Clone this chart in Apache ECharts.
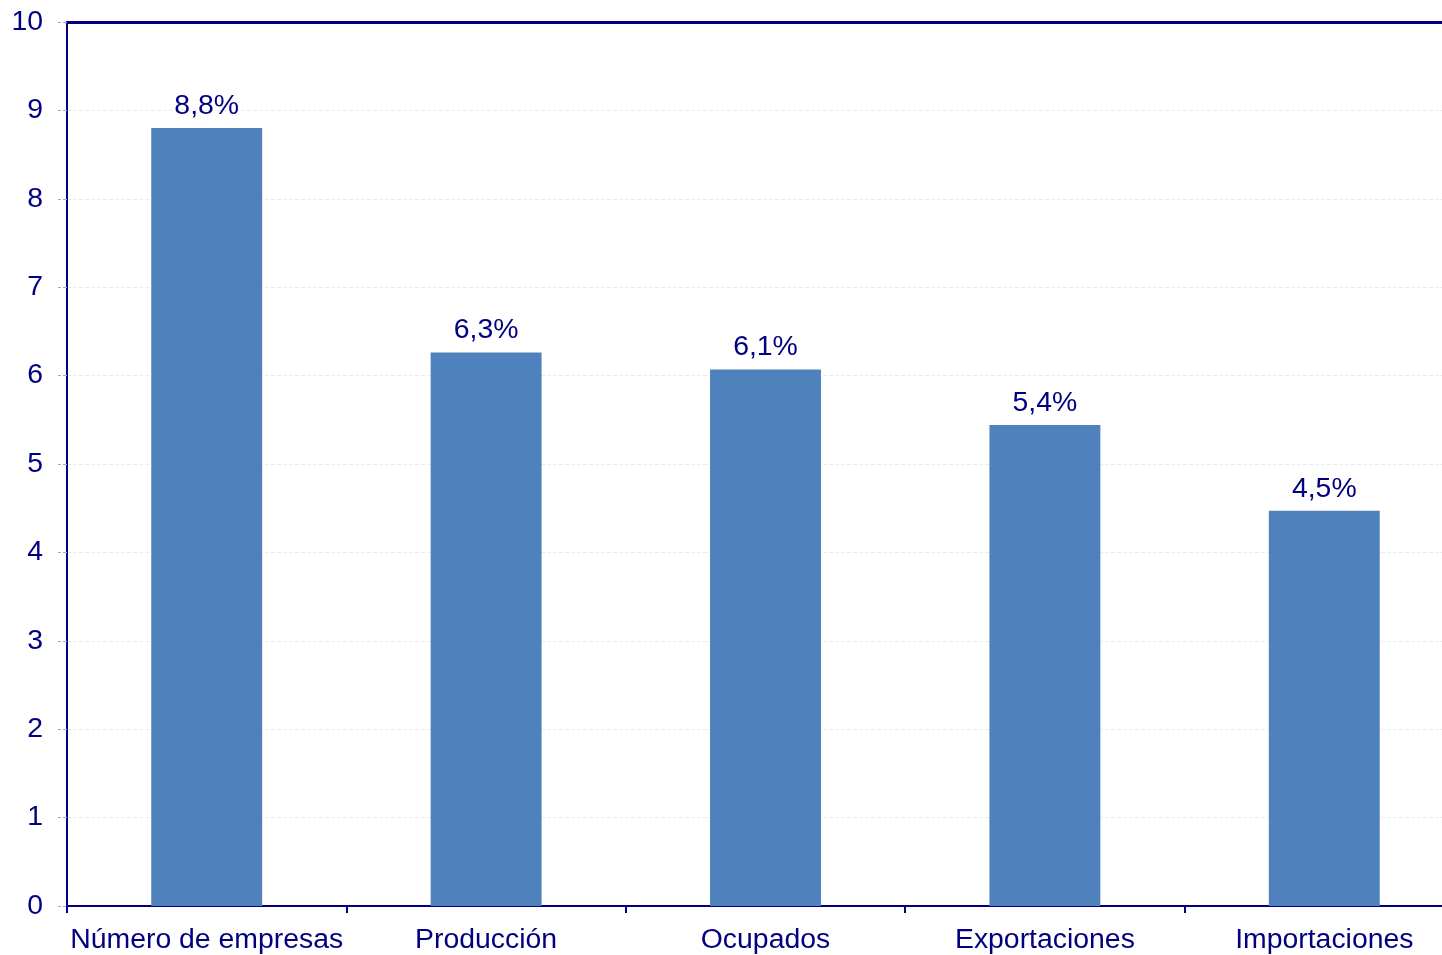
<!DOCTYPE html>
<html>
<head>
<meta charset="utf-8">
<script src="https://cdn.jsdelivr.net/npm/echarts@6/dist/echarts.min.js"></script>
<style>
  html, body { margin: 0; padding: 0; background: #fff; overflow: hidden; }
  /* el área de trazado sobrepasa el borde derecho de la imagen */
  #chart { width: 1464px; height: 955px; }
</style>
</head>
<body>
<div id="chart"></div>
<script>
// categorías y valores (%)
const categories = ['Número de empresas', 'Producción', 'Ocupados', 'Exportaciones', 'Importaciones'];
const values = [8.8, 6.26, 6.07, 5.44, 4.47];

const navy = '#000080';
const font = 'Liberation Sans, Arial, sans-serif';

const chart = echarts.init(document.getElementById('chart'));

chart.setOption({
  animation: false,
  backgroundColor: '#fff',
  textStyle: { fontFamily: font },
  grid: { left: 67, right: 0, top: 22, bottom: 49, containLabel: false },
  xAxis: [
    {
      type: 'category',
      data: categories,
      axisLine: { lineStyle: { color: navy, width: 2 } },
      axisTick: { show: true, length: 7, lineStyle: { color: navy, width: 2 } },
      axisLabel: { color: navy, fontSize: 28.4, fontFamily: font, margin: 20, interval: 0 },
    },
    {
      // borde superior
      type: 'category',
      position: 'top',
      data: categories,
      axisLine: { lineStyle: { color: navy, width: 3 } },
      axisTick: { show: false },
      axisLabel: { show: false },
    },
  ],
  yAxis: {
    type: 'value',
    min: 0,
    max: 10,
    interval: 1,
    axisLine: { show: true, lineStyle: { color: navy, width: 2 } },
    axisTick: { show: true, length: 9, lineStyle: { color: '#9fa8e0', type: 'dashed', width: 1 } },
    axisLabel: { color: navy, fontSize: 28.4, fontFamily: font, margin: 24 },
    splitLine: { show: true, lineStyle: { color: '#e6ecf5', type: 'dashed', width: 1 } },
  },
  series: [
    {
      type: 'bar',
      data: values,
      barWidth: '39.7%',
      itemStyle: { color: '#4f81bd' },
      label: {
        show: true,
        position: 'top',
        distance: 8,
        color: navy,
        fontSize: 28.4,
        fontFamily: font,
        formatter: (p) => p.value.toFixed(1).replace('.', ',') + '%',
      },
    },
  ],
});
</script>
</body>
</html>
